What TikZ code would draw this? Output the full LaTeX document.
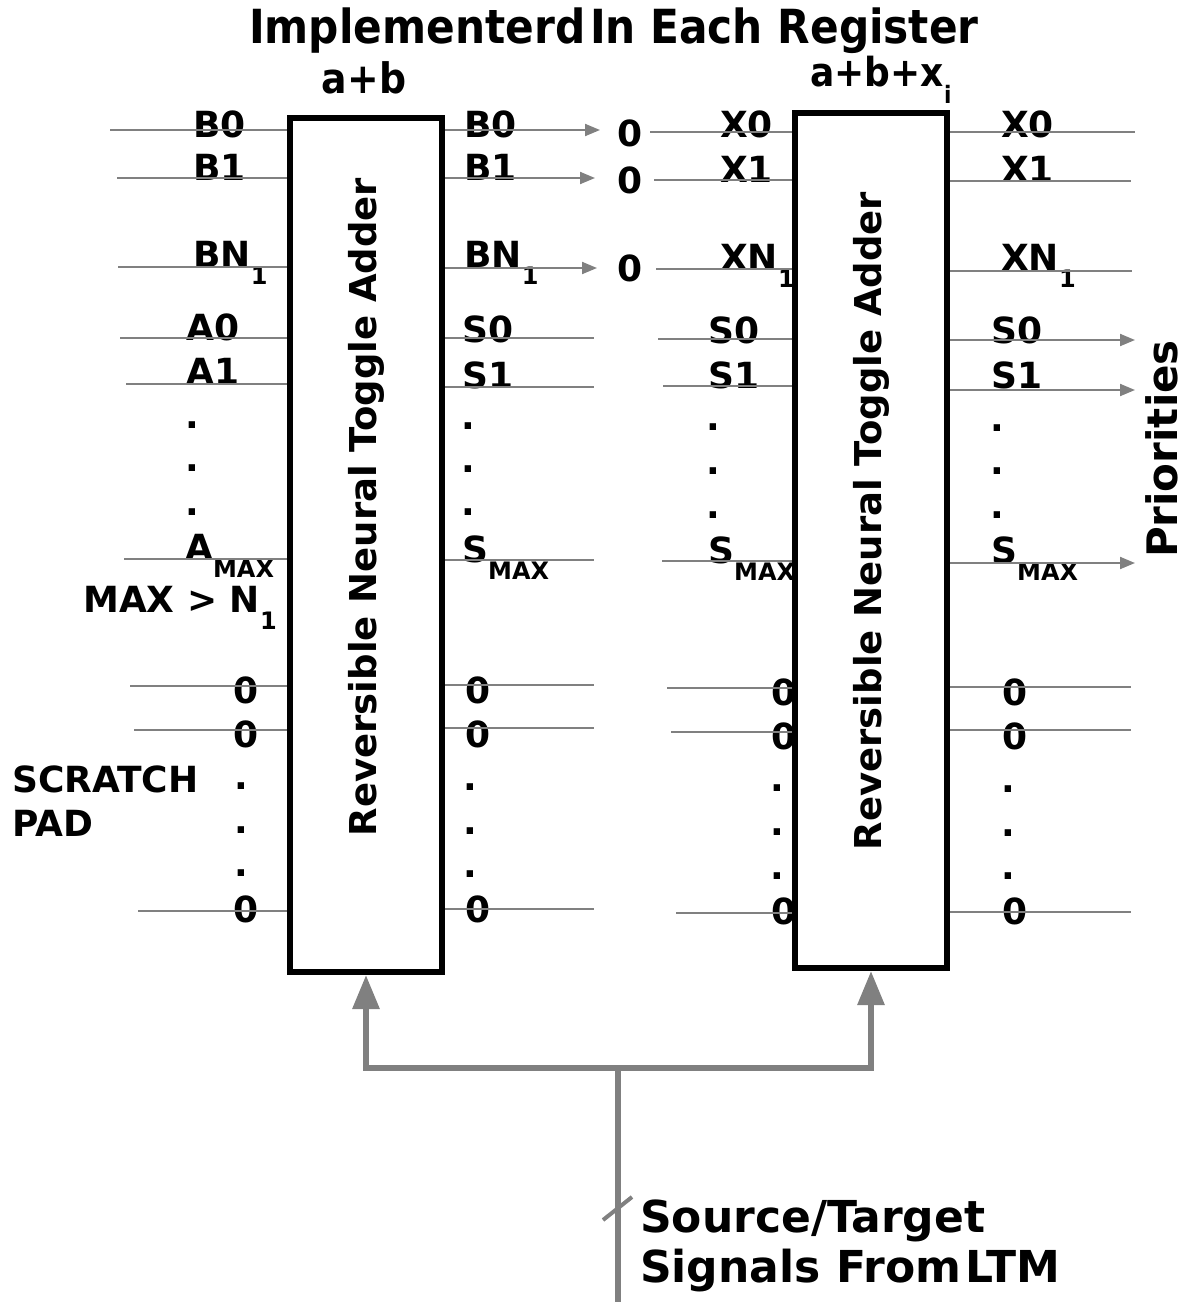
\documentclass[tikz,border=0pt]{standalone}
\usepackage{fontspec}
\setmainfont{DejaVu Sans}
\newfontfamily\condfont{DejaVu Sans Condensed}
\usetikzlibrary{arrows.meta}
\newcommand{\lo}[1]{\raisebox{-17pt}{\fontsize{24}{24}\selectfont #1}}
\tikzset{
  wire/.style={draw=gray, line width=2pt},
  sig/.style={wire, -{Triangle[length=15pt,width=12pt]}},
  busline/.style={draw=gray, line width=6pt},
  bus/.style={busline, -{Triangle[length=34pt,width=26pt]}},
  adder/.style={draw, line width=6pt, minimum width=152pt, minimum height=854pt, inner sep=0pt},
  lbl/.style={font=\fontsize{36}{40}\selectfont\bfseries, inner sep=0pt, anchor=base west},
  zero/.style={font=\fontsize{36}{40}\selectfont\bfseries, inner sep=0pt},
  dot/.style={font=\fontsize{36}{40}\selectfont\bfseries, inner sep=0pt}
}
\begin{document}
\begin{tikzpicture}[x=1pt, y=-1pt]
\useasboundingbox (0,0) rectangle (1188,1302);
% the two adders
\node[adder] (add1) at (366,545) {};
\node[adder, minimum height=855pt] (add2) at (871,540.5) {};
\node[font=\fontsize{37}{40}\selectfont\bfseries, rotate=90] (name1) at (366,507) {Reversible Neural Toggle Adder};
\node[font=\fontsize{37}{40}\selectfont\bfseries, rotate=90] (name2) at (871,521) {Reversible Neural Toggle Adder};
% headings
\node[font=\fontsize{47}{52}\selectfont\condfont\bfseries, anchor=base] (title) at (614,43) {Implementerd\hspace{0.1em}In Each Register};
\node[font=\fontsize{42}{46}\selectfont\condfont\bfseries, anchor=base] (sum1) at (364,93) {a+b};
\node[font=\fontsize{40}{44}\selectfont\condfont\bfseries, anchor=base west] (sum2) at (807,86) {a+b+x\lo{i}};
% labels, first adder
\node[lbl] (b0in) at (193,137) {B0};
\node[lbl] (b1in) at (193,180) {B1};
\node[lbl] (bnin) at (193,267) {BN\lo{1}};
\node[lbl] (a0) at (186,340) {A0};
\node[lbl] (a1) at (186,384) {A1};
\node[lbl] (amax) at (185,560) {A\lo{MAX}};
\node[lbl] (maxn) at (83,612) {MAX > N\lo{1}};
\node[lbl] (b0out) at (464,137) {B0};
\node[lbl] (b1out) at (464,180) {B1};
\node[lbl] (bnout) at (464,267) {BN\lo{1}};
\node[lbl] (s0a) at (462,342) {S0};
\node[lbl] (s1a) at (462,388) {S1};
\node[lbl] (smaxa) at (462,562) {S\lo{MAX}};
\node[lbl] (pad1) at (12,792) {SCRATCH};
\node[lbl] (pad2) at (12,836) {PAD};
% labels, second adder
\node[lbl] (x0in) at (720,137) {X0};
\node[lbl] (x1in) at (720,182) {X1};
\node[lbl] (xnin) at (720,270) {XN\lo{1}};
\node[lbl] (s0b) at (708,343) {S0};
\node[lbl] (s1b) at (708,388) {S1};
\node[lbl] (smaxb) at (708,563) {S\lo{MAX}};
\node[lbl] (x0out) at (1001,137) {X0};
\node[lbl] (x1out) at (1001,182) {X1};
\node[lbl] (xnout) at (1001,270) {XN\lo{1}};
\node[lbl] (s0c) at (991,343) {S0};
\node[lbl] (s1c) at (991,388) {S1};
\node[lbl] (smaxc) at (991,563) {S\lo{MAX}};
\node[font=\fontsize{42}{46}\selectfont\bfseries, rotate=90] (prio) at (1162,449) {Priorities};
% zeros
\foreach \x/\y [count=\i] in {630/133, 630/180, 630/268, 246/690, 246/734, 246/909, 478/690, 478/734, 478/909, 784/692, 784/736, 784/911, 1015/692, 1015/736, 1015/911}
  \node[zero] (z\i) at (\x,\y) {0};
% dots
\foreach \x/\y [count=\i] in {192/425, 192/468, 192/512, 468/426, 468/469, 468/512, 713/427, 713/471, 713/515, 997/428, 997/471, 997/515, 241/786, 241/830, 241/873, 470/787, 470/831, 470/874, 777/788, 777/832, 777/876, 1008/789, 1008/833, 1008/876}
  \node[dot] (d\i) at (\x,\y) {.};
% wires into the first adder
\foreach \x/\y in {110/130, 117/178, 118/267, 120/338, 126/384, 124/559, 130/686, 134/730, 138/911}
  \draw[wire] (\x,\y) -- (add1.west |- 0,\y);
% wires out of the first adder
\foreach \y/\x in {130/600, 178/595, 268/597}
  \draw[sig] (add1.east |- 0,\y) -- (\x,\y);
\foreach \y in {338, 387, 560, 685, 728, 909}
  \draw[wire] (add1.east |- 0,\y) -- (594,\y);
% wires into the second adder
\foreach \x/\y in {650/132, 654/180, 656/269, 658/339, 663/386, 662/561, 667/688, 671/732, 676/913}
  \draw[wire] (\x,\y) -- (add2.west |- 0,\y);
% wires out of the second adder
\foreach \y/\x in {132/1135, 181/1131, 271/1132, 687/1131, 730/1131, 912/1131}
  \draw[wire] (add2.east |- 0,\y) -- (\x,\y);
\foreach \y in {340, 390, 563}
  \draw[sig] (add2.east |- 0,\y) -- (1135,\y);
% control bus from LTM
\coordinate (ltm) at (618,1302);
\coordinate (fork) at (618,1068);
\draw[busline] (ltm) -- (fork);
\draw[bus] (fork) -| (add1.south);
\draw[bus] (fork) -| (add2.south);
\draw[gray, line width=4pt] (603,1220) -- (632,1197);
\node[lbl, font=\fontsize{44}{48}\selectfont\bfseries] (src) at (640,1232) {Source/Target};
\node[lbl, font=\fontsize{44}{48}\selectfont\bfseries] (sigs) at (640,1282) {Signals From\hspace{0.1em}LTM};
\end{tikzpicture}
\end{document}
